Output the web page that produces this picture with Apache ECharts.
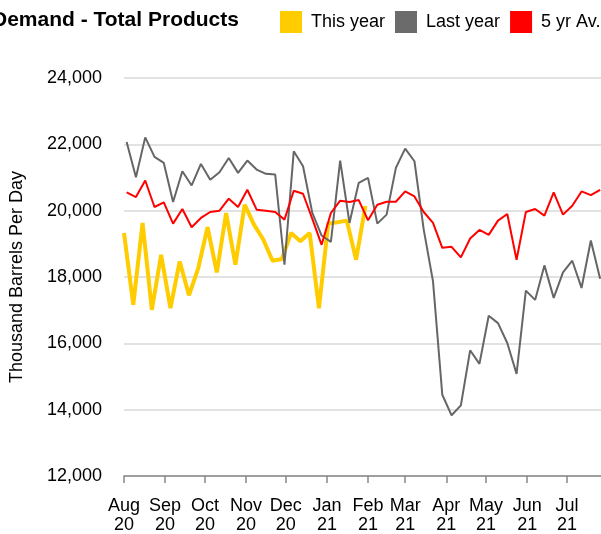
<!DOCTYPE html>
<html>
<head>
<meta charset="utf-8">
<script src="https://cdn.jsdelivr.net/npm/echarts@6/dist/echarts.min.js"></script>
<style>
  html, body { margin: 0; padding: 0; background: #fff; }
  #chart { width: 601px; height: 534px; }
</style>
</head>
<body>
<div id="chart"></div>
<script>
// weekly demand, thousand barrels per day
const thisYear = [
  19330, 17160, 19630, 17010, 18670, 17060, 18470, 17450, 18270, 19500,
  18140, 19930, 18370, 20180, 19580, 19130, 18490, 18540, 19330, 19080,
  19330, 17060, 19610, 19650, 19700, 18520, 20140
];
const lastYear = [
  22070, 21010, 22210, 21620, 21440, 20260, 21190, 20760, 21410, 20930,
  21160, 21590, 21140, 21510, 21240, 21110, 21090, 18370, 21790, 21340,
  19930, 19250, 19060, 21510, 19630, 20840, 20990, 19610, 19880, 21290,
  21870, 21490, 19430, 17870, 14450, 13830, 14130, 15790, 15380, 16830,
  16610, 16010, 15080, 17590, 17310, 18350, 17370, 18140, 18490, 17670,
  19100, 17950
];
const fiveYrAv = [
  20550, 20410, 20910, 20110, 20250, 19610, 20050, 19500, 19780, 19960,
  20000, 20360, 20110, 20630, 20030, 20000, 19960, 19730, 20600, 20510,
  19750, 18970, 19930, 20300, 20260, 20320, 19710, 20180, 20270, 20270,
  20580, 20430, 19960, 19630, 18880, 18910, 18590, 19160, 19420, 19270,
  19700, 19900, 18520, 19960, 20050, 19850, 20550, 19880, 20150, 20580,
  20470, 20630
];
const monthNames = ['Jan', 'Feb', 'Mar', 'Apr', 'May', 'Jun', 'Jul', 'Aug', 'Sep', 'Oct', 'Nov', 'Dec'];
const yTicks = [12000, 14000, 16000, 18000, 20000, 22000, 24000];

// week dates: this year weeks start 1 Aug 2020, last year / 5 yr weeks are plotted from 3 Aug
const DAY = 86400000;
const thisYearStart = new Date(2020, 7, 1).getTime();
const lastYearStart = new Date(2020, 7, 3).getTime();
const weekDate = (start, i) => start + i * 7 * DAY;

const chart = echarts.init(document.getElementById('chart'));

const font = 'Liberation Sans, Arial, sans-serif';

const option = {
  animation: false,
  backgroundColor: '#fff',
  title: {
    text: 'Demand - Total Products',
    left: -8,
    top: 10,
    padding: 0,
    textStyle: { fontSize: 21, fontWeight: 'bold', color: '#000', fontFamily: font }
  },
  legend: {
    data: ['This year', 'Last year', '5 yr Av.'],
    left: 280,
    top: 11,
    padding: 0,
    icon: 'rect',
    itemWidth: 22,
    itemHeight: 22,
    itemGap: 10,
    textStyle: { fontSize: 18, color: '#000', fontFamily: font, padding: [0, 0, 0, 4] }
  },
  grid: { left: 124, right: 0, top: 78, bottom: 58, containLabel: false, outerBoundsMode: 'none' },
  xAxis: {
    type: 'time',
    min: thisYearStart,
    max: new Date(2021, 6, 26, 16).getTime(),
    splitNumber: 12,
    minInterval: 28 * DAY,
    maxInterval: 31 * DAY,
    axisLine: { lineStyle: { color: '#888', width: 1.5 } },
    axisTick: { show: true, length: 7, lineStyle: { color: '#888', width: 1.5 } },
    splitLine: { show: false },
    axisLabel: {
      color: '#000',
      fontSize: 18,
      lineHeight: 19,
      fontFamily: font,
      margin: 21,
      showMaxLabel: false,
      formatter: function (val) {
        const d = new Date(val);
        return monthNames[d.getMonth()] + '\n' + String(d.getFullYear()).slice(2);
      }
    }
  },
  yAxis: {
    type: 'value',
    min: yTicks[0],
    max: yTicks[yTicks.length - 1],
    interval: 2000,
    name: 'Thousand Barrels Per Day',
    nameLocation: 'middle',
    nameGap: 98,
    nameTextStyle: { fontSize: 18, color: '#000', fontFamily: font },
    axisLine: { show: false },
    axisTick: { show: false },
    splitLine: { lineStyle: { color: '#d9d9d9', width: 1.5 } },
    axisLabel: {
      color: '#000',
      fontSize: 18,
      fontFamily: font,
      margin: 22,
      formatter: v => v.toLocaleString('en-US')
    }
  },
  series: [
    {
      name: 'This year',
      type: 'line',
      data: thisYear.map((v, i) => [weekDate(thisYearStart, i), v]),
      symbol: 'none',
      lineStyle: { color: '#FFCC00', width: 4 },
      itemStyle: { color: '#FFCC00' }
    },
    {
      name: 'Last year',
      type: 'line',
      data: lastYear.map((v, i) => [weekDate(lastYearStart, i), v]),
      symbol: 'none',
      lineStyle: { color: '#666666', width: 2 },
      itemStyle: { color: '#6b6b6b' }
    },
    {
      name: '5 yr Av.',
      type: 'line',
      data: fiveYrAv.map((v, i) => [weekDate(lastYearStart, i), v]),
      symbol: 'none',
      lineStyle: { color: '#FF0000', width: 2 },
      itemStyle: { color: '#FF0000' }
    }
  ]
};

chart.setOption(option);
</script>
</body>
</html>
